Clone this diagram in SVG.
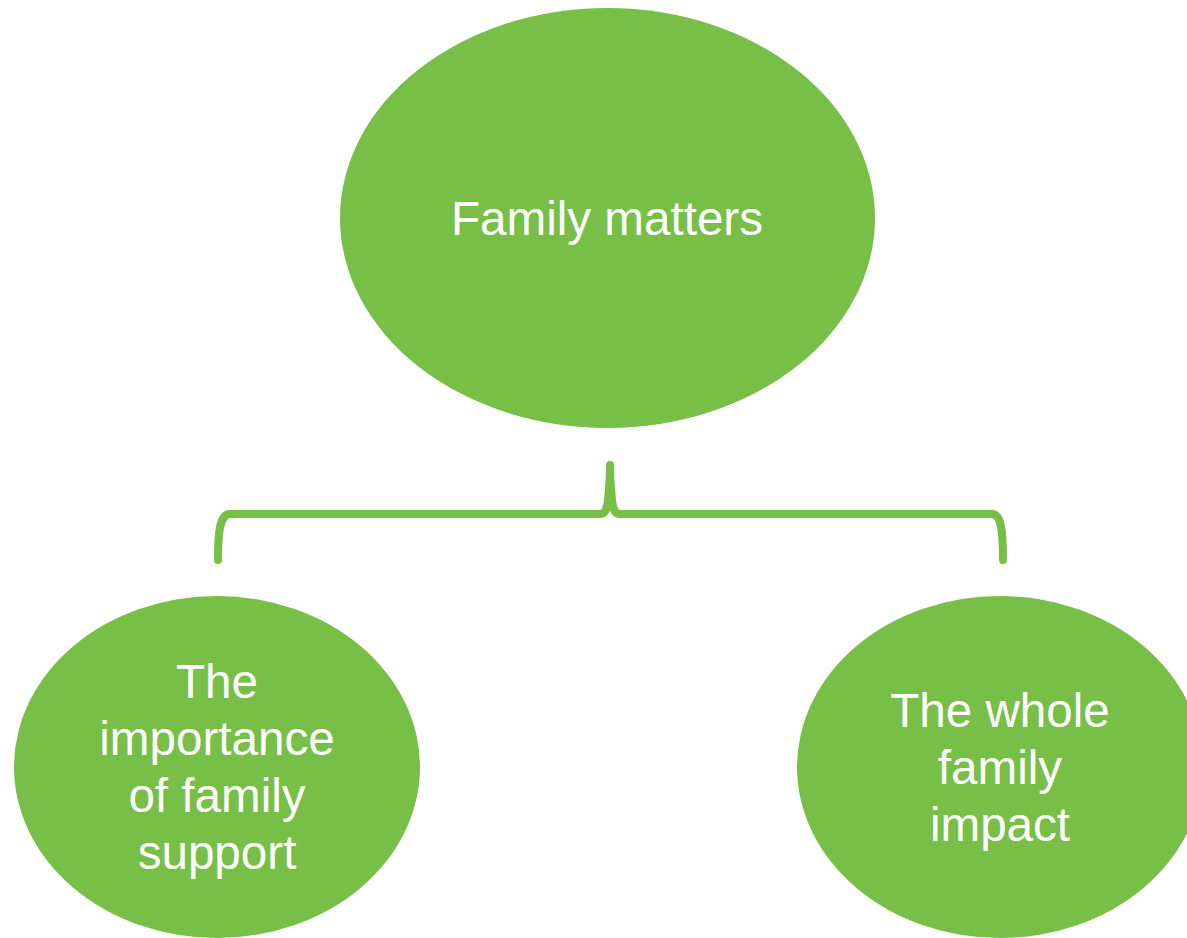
<svg xmlns="http://www.w3.org/2000/svg" width="1187" height="938" viewBox="0 0 1187 938">
<style>
.node{fill:#77BF47}
.lbl{font-family:"Liberation Sans",Arial,sans-serif;font-size:47.6px;fill:#FFFFFF;text-anchor:middle}
.conn{fill:none;stroke:#77BF47;stroke-width:8;stroke-linecap:round;stroke-linejoin:round}
</style>
<rect width="1187" height="938" fill="#FFFFFF"/>
<g id="connectors">
<path class="conn" d="M218 560 C218 535 219 514 230 514 L600 514 C605 514 607 510 608 500 C609 490 610 475 610 465 C610 475 611 490 612 500 C613 510 615 514 620 514 L992 514 C1002 514 1003 535 1003 560"/>
</g>
<g id="node-top">
<ellipse class="node" cx="607.5" cy="218" rx="267.5" ry="210"/>
<text class="lbl" x="607" y="235">Family matters</text>
</g>
<g id="node-left">
<ellipse class="node" cx="217" cy="767" rx="203" ry="171"/>
<text class="lbl" x="217" y="698">The</text>
<text class="lbl" x="217" y="755">importance</text>
<text class="lbl" x="217" y="812">of family</text>
<text class="lbl" x="217" y="869">support</text>
</g>
<g id="node-right">
<ellipse class="node" cx="1000" cy="767" rx="203" ry="171"/>
<text class="lbl" x="1000" y="727">The whole</text>
<text class="lbl" x="1000" y="784">family</text>
<text class="lbl" x="1000" y="841">impact</text>
</g>
</svg>
